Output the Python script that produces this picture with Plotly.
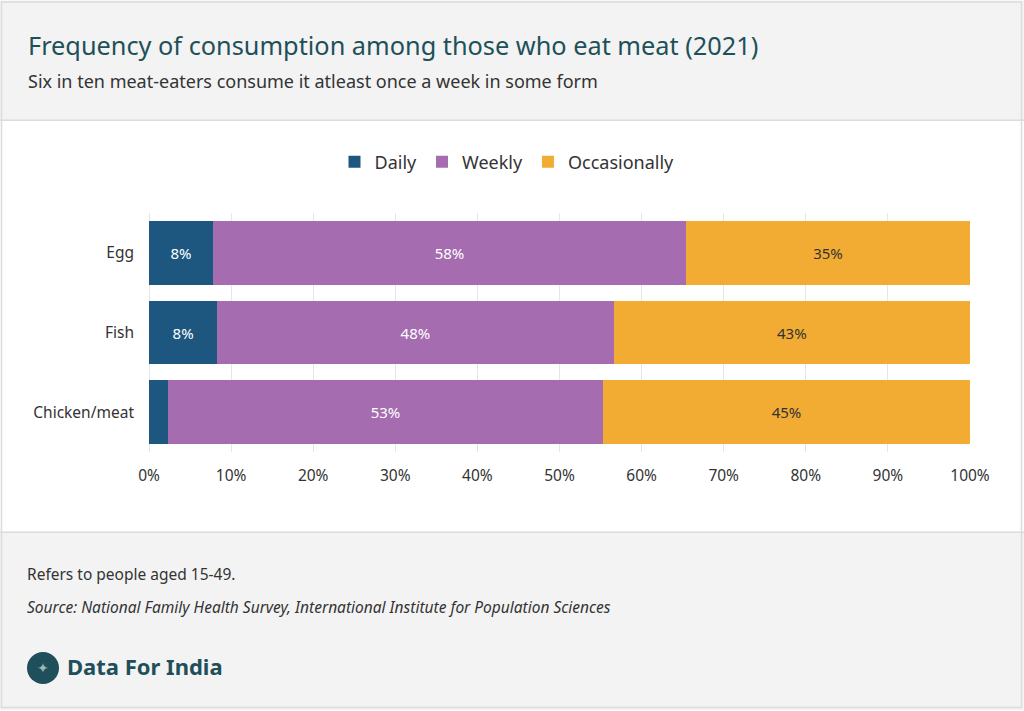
import plotly.graph_objects as go

categories = ["Egg", "Fish", "Chicken/meat"]
daily = [7.8, 8.3, 2.3]
weekly = [57.6, 48.3, 53.0]
occasionally = [34.6, 43.4, 44.7]
series_names = ["Daily", "Weekly", "Occasionally"]
x_ticks = [0, 10, 20, 30, 40, 50, 60, 70, 80, 90, 100]

W, H = 1024, 711
PL, PR, PT, PB = 149, 970, 213, 452.5

def px(x):
    return (x - PL) / (PR - PL)

def py(y):
    return (PB - y) / (PB - PT)

colors = ["#1d5780", "#a56cb0", "#f2ab33"]
txtcolors = ["#ffffff", "#ffffff", "#333333"]
FONT = "Noto Sans"

fig = go.Figure()
for name, vals, c, tc in zip(series_names, [daily, weekly, occasionally], colors, txtcolors):
    fig.add_trace(go.Bar(
        y=categories, x=vals, name=name, orientation="h",
        marker=dict(color=c, line=dict(width=0)),
        text=[f"{round(v)}%" if v >= 5 else "" for v in vals],
        textposition="inside", insidetextanchor="middle",
        textfont=dict(color=tc, size=15, family=FONT),
        hoverinfo="skip",
    ))

shapes = [
    dict(type="rect", xref="paper", yref="paper", x0=px(0), x1=px(W), y0=py(120), y1=py(0),
         fillcolor="#f3f3f3", line=dict(width=0), layer="below"),
    dict(type="rect", xref="paper", yref="paper", x0=px(0), x1=px(W), y0=py(H), y1=py(533),
         fillcolor="#f3f3f3", line=dict(width=0), layer="below"),
    dict(type="line", xref="paper", yref="paper", x0=px(0), x1=px(W), y0=py(120), y1=py(120),
         line=dict(color="#dcdcdc", width=1.5)),
    dict(type="line", xref="paper", yref="paper", x0=px(0), x1=px(W), y0=py(533), y1=py(533),
         line=dict(color="#dcdcdc", width=1.5)),
    dict(type="rect", xref="paper", yref="paper", x0=px(1.5), x1=px(W - 2.5), y0=py(H - 2.5), y1=py(1.5),
         fillcolor="rgba(0,0,0,0)", line=dict(color="#dcdcdc", width=1.5)),
    dict(type="circle", xref="paper", yref="paper", x0=px(27), x1=px(59), y0=py(685), y1=py(653),
         fillcolor="#1e4f5a", line=dict(width=0)),
]

annotations = [
    dict(text="Frequency of consumption among those who eat meat (2021)", x=px(26), y=py(45),
         xref="paper", yref="paper", xanchor="left", yanchor="middle", showarrow=False,
         font=dict(family=FONT, size=25.3, color="#1e5059")),
    dict(text="Six in ten meat-eaters consume it atleast once a week in some form", x=px(26), y=py(81),
         xref="paper", yref="paper", xanchor="left", yanchor="middle", showarrow=False,
         font=dict(family=FONT, size=18, color="#333333")),
    dict(text="Refers to people aged 15-49.", x=px(25), y=py(575),
         xref="paper", yref="paper", xanchor="left", yanchor="middle", showarrow=False,
         font=dict(family=FONT, size=15.5, color="#333333")),
    dict(text="<i>Source: National Family Health Survey, International Institute for Population Sciences</i>",
         x=px(25), y=py(608), xref="paper", yref="paper", xanchor="left", yanchor="middle", showarrow=False,
         font=dict(family=FONT, size=15.5, color="#333333")),
    dict(text="<b>Data For India</b>", x=px(65), y=py(667),
         xref="paper", yref="paper", xanchor="left", yanchor="middle", showarrow=False,
         font=dict(family=FONT, size=22, color="#1e4f5a")),
    dict(text="✦", x=px(43), y=py(669),
         xref="paper", yref="paper", xanchor="center", yanchor="middle", showarrow=False,
         font=dict(family="DejaVu Sans", size=14, color="#9fb3b8")),
]

fig.update_layout(
    width=W, height=H,
    margin=dict(l=PL, r=W - PR, t=PT, b=H - PB, pad=0),
    barmode="stack", bargap=0.2,
    paper_bgcolor="#ffffff", plot_bgcolor="#ffffff",
    font=dict(family=FONT, color="#333333"),
    showlegend=True,
    legend=dict(orientation="h", x=px(507), y=py(162), xanchor="center", yanchor="middle",
                font=dict(family=FONT, size=18, color="#333333"), traceorder="normal",
                bgcolor="rgba(0,0,0,0)", itemwidth=30),
    xaxis=dict(range=[0, 100], tickvals=x_ticks, ticktext=[f"{t}%" for t in x_ticks],
               showgrid=True, gridcolor="#e6e6e6", gridwidth=1, zeroline=True, zerolinecolor="#e6e6e6",
               zerolinewidth=1, showline=False, ticks="", ticklabelstandoff=12,
               tickfont=dict(family=FONT, size=15.5, color="#333333"), fixedrange=True),
    yaxis=dict(categoryorder="array", categoryarray=categories[::-1], range=[-0.5, 2.5],
               showgrid=False, zeroline=False, showline=False, ticks="", ticklabelstandoff=14,
               tickfont=dict(family=FONT, size=15.5, color="#333333"), fixedrange=True),
    shapes=shapes, annotations=annotations,
)

fig.write_html("out.html", config={"displayModeBar": False},
               post_script="document.body.style.margin='0';document.body.style.overflow='hidden';")
